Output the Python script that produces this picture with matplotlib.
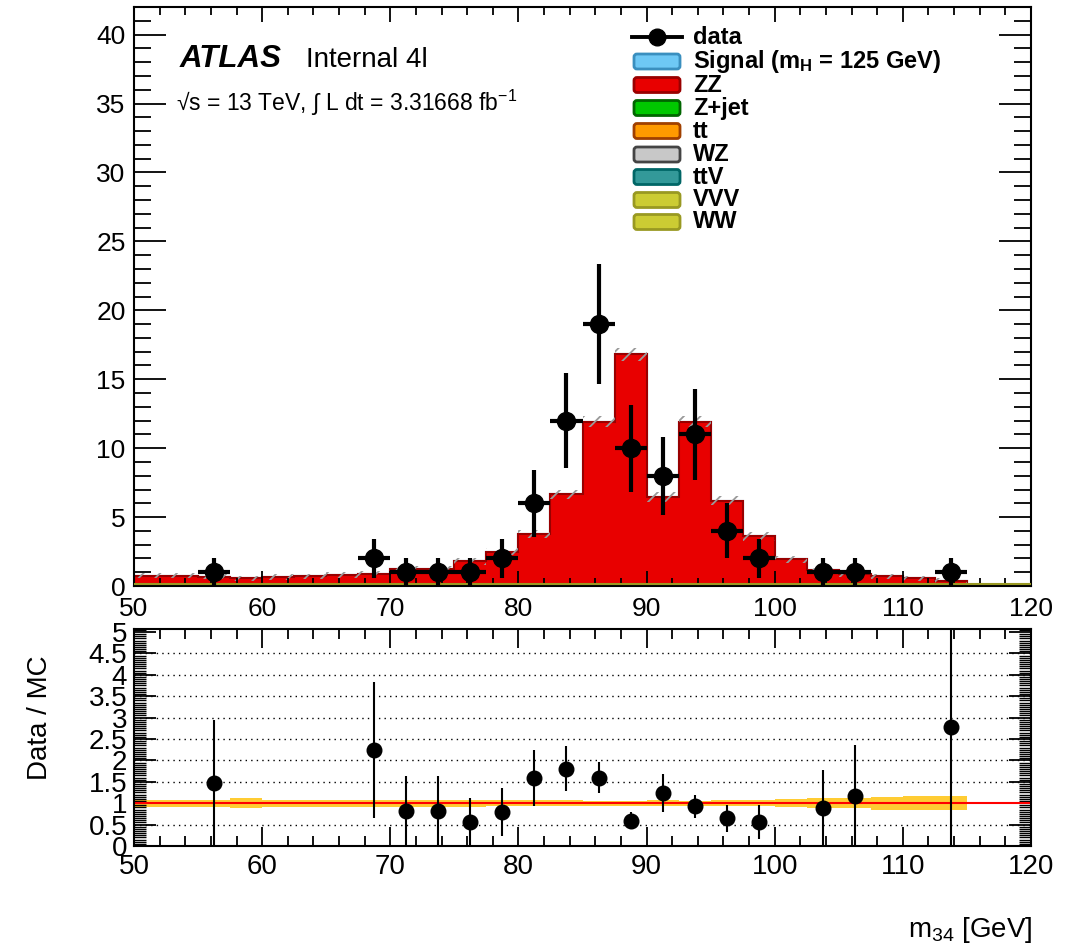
import numpy as np
import matplotlib
matplotlib.use('Agg')
import matplotlib.pyplot as plt
from matplotlib.patches import FancyBboxPatch
from matplotlib.lines import Line2D
from matplotlib.ticker import MultipleLocator

plt.rcParams['font.family'] = ['Liberation Sans', 'DejaVu Sans']
plt.rcParams['mathtext.fontset'] = 'custom'
plt.rcParams['mathtext.rm'] = 'Liberation Sans'
plt.rcParams['mathtext.it'] = 'Liberation Sans:italic'
plt.rcParams['mathtext.bf'] = 'Liberation Sans:bold'
plt.rcParams['hatch.linewidth'] = 1.3

# Bins m34 : 50 -> 120 GeV, 2.5 GeV
bin_edges = np.arange(50, 120.01, 2.5)
n_bins = len(bin_edges) - 1

# MC (ZZ gần như toàn bộ)
zz = [0.75, 0.75, 0.68, 0.55, 0.65, 0.70, 0.80, 0.89, 1.22, 1.22, 1.79, 2.50, 3.77, 6.65,
      11.9, 16.8, 6.45, 11.9, 6.20, 3.60, 1.95, 1.13, 0.85, 0.70, 0.55, 0.36, 0.0, 0.0]
signal = [0.0] * n_bins
zjet = [0.0] * n_bins
ttbar = [0.0] * n_bins
wz = [0.0] * n_bins
ttv = [0.0] * n_bins
vvv = [0.0] * n_bins
ww = [0.0] * n_bins

# sai số MC (main panel, tuyệt đối) và dải sai số tương đối (ratio)
mc_unc = [0.2, 0.2, 0.2, 0.2, 0.2, 0.2, 0.2, 0.2, 0.2, 0.2, 0.25, 0.25, 0.3, 0.35,
          0.4, 0.45, 0.35, 0.4, 0.35, 0.3, 0.25, 0.2, 0.2, 0.2, 0.2, 0.2, 0.0, 0.0]
ratio_band = [0.08, 0.08, 0.08, 0.11, 0.08, 0.08, 0.08, 0.08, 0.08, 0.08, 0.08, 0.07, 0.07, 0.07,
              0.06, 0.06, 0.07, 0.06, 0.07, 0.07, 0.10, 0.12, 0.12, 0.15, 0.17, 0.17, 0.0, 0.0]

# Data
data_x = [56.25, 68.75, 71.25, 73.75, 76.25, 78.75, 81.25, 83.75, 86.25,
          88.75, 91.25, 93.75, 96.25, 98.75, 103.75, 106.25, 113.75]
data_n = [1, 2, 1, 1, 1, 2, 6, 12, 19, 10, 8, 11, 4, 2, 1, 1, 1]

legend_labels = ['Signal (m$_{\\mathbf{H}}$ = 125 GeV)', 'ZZ', 'Z+jet', 'tt', 'WZ', 'ttV', 'VVV', 'WW']
face_colors = ['#6EC8F5', '#E80000', '#00C800', '#FF9A00', '#C8C8C8', '#339999', '#CCCC33', '#CCCC33']
edge_colors = ['#3A8FBF', '#990000', '#006600', '#A04000', '#444444', '#006666', '#999922', '#999922']

W, H = 1069, 950
fig = plt.figure(figsize=(W / 100, H / 100), dpi=100)


def fx(px):
    return px / W


def fy(py):
    return 1 - py / H


ax = fig.add_axes([fx(134), fy(586), fx(1031) - fx(134), fy(7) - fy(586)])
rax = fig.add_axes([fx(134), fy(846), fx(1031) - fx(134), fy(629) - fy(846)])

# stack: dưới -> trên
comps = [ww, vvv, ttv, wz, ttbar, zjet, zz, signal]
comp_face = face_colors[::-1]
comp_edge = edge_colors[::-1]
cum = np.cumsum(np.array(comps), axis=0)
for i in reversed(range(len(comps))):
    ax.stairs(cum[i], bin_edges, baseline=0, fill=True, facecolor=comp_face[i],
              edgecolor=comp_edge[i], linewidth=1.5)

# đường olive sát đáy (các nền ~0)
ax.stairs(cum[0] + 0.12, bin_edges, baseline=None, color=comp_edge[0], linewidth=1.5, zorder=3)

mc_total = cum[-1]
unc = np.array(mc_unc)
ax.stairs(mc_total + unc, bin_edges, baseline=mc_total - unc, fill=True,
          facecolor='none', edgecolor='#9a9a9a', linewidth=0, hatch='//')

data_x = np.array(data_x)
data_n = np.array(data_n, dtype=float)
ax.errorbar(data_x, data_n, yerr=np.sqrt(data_n), xerr=1.25, fmt='o', color='black',
            markersize=13, elinewidth=3, capsize=0, zorder=5)

ax.set_xlim(50, 120)
ax.set_ylim(0, 42)
ax.xaxis.set_major_locator(MultipleLocator(10))
ax.xaxis.set_minor_locator(MultipleLocator(2))
ax.yaxis.set_major_locator(MultipleLocator(5))
ax.yaxis.set_minor_locator(MultipleLocator(1))
ax.tick_params(which='both', direction='in', top=True, right=True, labelsize=19, width=1.3)
ax.tick_params(axis='x', which='major', length=11, pad=8)
ax.tick_params(axis='x', which='minor', length=6)
ax.tick_params(axis='y', which='major', length=23, pad=6)
ax.tick_params(axis='y', which='minor', length=12)
for s in ax.spines.values():
    s.set_linewidth(1.5)

# ratio
idx = ((data_x - 50) / 2.5).astype(int)
mc_at = mc_total[idx]
ratio = data_n / mc_at
ratio_err = np.sqrt(data_n) / mc_at

band = np.array(ratio_band)
rax.stairs(1 + band, bin_edges, baseline=1 - band, fill=True, color='#FFCC33', linewidth=0)
for g in [0.5, 1.5, 2, 2.5, 3, 3.5, 4, 4.5]:
    rax.axhline(g, color='black', linestyle=(0, (1, 3)), linewidth=1.0, zorder=1)
rax.axhline(1, color='#FF0000', linewidth=1.5, zorder=2)
rax.errorbar(data_x, ratio, yerr=ratio_err, fmt='o', color='black', markersize=10.5,
             elinewidth=1.5, capsize=0, zorder=5)

rax.set_xlim(50, 120)
rax.set_ylim(0, 5.07)
rax.xaxis.set_major_locator(MultipleLocator(10))
rax.xaxis.set_minor_locator(MultipleLocator(2))
rax.yaxis.set_major_locator(MultipleLocator(0.5))
rax.yaxis.set_minor_locator(MultipleLocator(0.05))
rax.yaxis.set_major_formatter(plt.FuncFormatter(lambda v, p: '%g' % v))
rax.tick_params(which='both', direction='in', top=True, right=True, labelsize=20, width=1.3)
rax.tick_params(axis='x', which='major', length=14, pad=6)
rax.tick_params(axis='x', which='minor', length=7)
rax.tick_params(axis='y', which='major', length=16, pad=5)
rax.tick_params(axis='y', which='minor', length=8.5, width=1.0)
for s in rax.spines.values():
    s.set_linewidth(1.5)

fig.text(fx(40), fy(718), 'Data / MC', rotation=90, ha='center', va='center', fontsize=20)
fig.text(fx(1032), fy(937), 'm$_{34}$ [GeV]', ha='right', va='baseline', fontsize=20)

# ATLAS label
fig.text(fx(180), fy(67), 'ATLAS', fontsize=22.5, fontweight='bold', fontstyle='italic', va='baseline')
fig.text(fx(306), fy(67), 'Internal 4l', fontsize=20, va='baseline')
fig.text(fx(176), fy(111), '\u221as = 13 TeV, \u222b L dt = 3.31668 fb$^{-1}$', fontsize=16.5, va='baseline')

# legend (vẽ tay)
row_y = [37, 61.5, 85, 108, 131, 154.5, 177, 200, 222]
tr = fig.dpi_scale_trans
yy = (H - row_y[0]) / 100
fig.add_artist(Line2D([632 / 100, 682 / 100], [yy, yy], color='black', linewidth=2.8, transform=tr))
fig.add_artist(Line2D([657 / 100], [yy], marker='o', markersize=12, color='black', transform=tr))
fig.text(fx(693), fy(row_y[0]), 'data', fontsize=17, fontweight='bold', va='center')
for k, lab in enumerate(legend_labels):
    yc = row_y[k + 1]
    box = FancyBboxPatch((634 / 100, (H - yc - 7.5) / 100), 46 / 100, 15 / 100,
                         boxstyle='round,pad=0,rounding_size=0.03', transform=tr,
                         facecolor=face_colors[k], edgecolor=edge_colors[k], linewidth=2)
    fig.add_artist(box)
    fig.text(fx(693), fy(yc), lab, fontsize=17, fontweight='bold', va='center')

fig.savefig('out.png', dpi=100)
